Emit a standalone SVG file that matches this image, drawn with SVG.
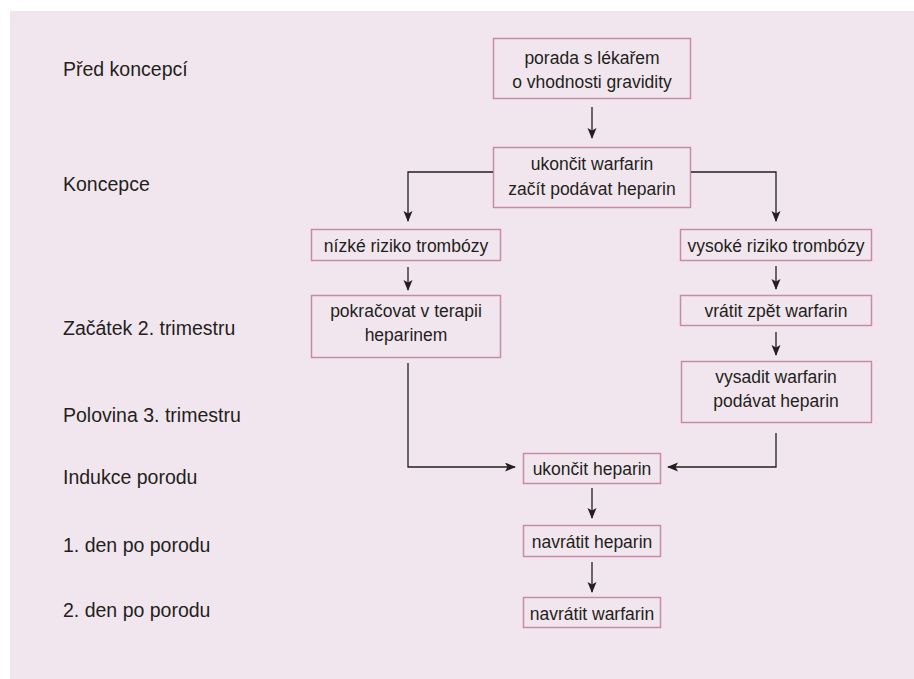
<svg xmlns="http://www.w3.org/2000/svg" width="914" height="679" viewBox="0 0 914 679">
<style>
.bg{fill:#f2e6ee}
.box{fill:none;stroke:#c98aa8;stroke-width:1.5}
.lbl{font-family:"Liberation Sans",Arial,sans-serif;font-size:19.5px;fill:#231f20}
.t{font-family:"Liberation Sans",Arial,sans-serif;font-size:17.5px;fill:#231f20;text-anchor:middle}
.c{fill:none;stroke:#231f20;stroke-width:1.3}
</style>
<defs>
<marker id="ah" markerWidth="12" markerHeight="10" refX="10" refY="4.5" orient="auto" markerUnits="userSpaceOnUse">
<path d="M0,0 L11,4.5 L0,9 L2.5,4.5 z" fill="#231f20"/>
</marker>
</defs>
<rect class="bg" x="10" y="11" width="904" height="668"/>
<g id="labels">
<text class="lbl" x="63" y="76">Před koncepcí</text>
<text class="lbl" x="63" y="191">Koncepce</text>
<text class="lbl" x="63" y="335">Začátek 2. trimestru</text>
<text class="lbl" x="63" y="422">Polovina 3. trimestru</text>
<text class="lbl" x="63" y="484">Indukce porodu</text>
<text class="lbl" x="63" y="552">1. den po porodu</text>
<text class="lbl" x="63" y="617">2. den po porodu</text>
</g>
<g id="n1"><rect class="box" x="493.5" y="38.5" width="197" height="60"/><text class="t" x="592" y="64">porada s lékařem</text><text class="t" x="592" y="88">o vhodnosti gravidity</text></g>
<g id="n2"><rect class="box" x="493.5" y="147.5" width="197" height="60"/><text class="t" x="592" y="170">ukončit warfarin</text><text class="t" x="592" y="195">začít podávat heparin</text></g>
<g id="n3"><rect class="box" x="311.5" y="229.5" width="189" height="31"/><text class="t" x="406" y="252">nízké riziko trombózy</text></g>
<g id="n4"><rect class="box" x="311.5" y="295.5" width="189" height="62"/><text class="t" x="406" y="317">pokračovat v terapii</text><text class="t" x="406" y="341">heparinem</text></g>
<g id="n5"><rect class="box" x="680.5" y="229.5" width="191" height="31"/><text class="t" x="776" y="252">vysoké riziko trombózy</text></g>
<g id="n6"><rect class="box" x="680.5" y="295.5" width="191" height="30"/><text class="t" x="776" y="317">vrátit zpět warfarin</text></g>
<g id="n7"><rect class="box" x="681.5" y="361.5" width="190" height="61"/><text class="t" x="776" y="383">vysadit warfarin</text><text class="t" x="776" y="407">podávat heparin</text></g>
<g id="n8"><rect class="box" x="523.5" y="453.5" width="137" height="30"/><text class="t" x="592" y="475">ukončit heparin</text></g>
<g id="n9"><rect class="box" x="523.5" y="525.5" width="137" height="31"/><text class="t" x="592" y="548">navrátit heparin</text></g>
<g id="n10"><rect class="box" x="523.5" y="597.5" width="137" height="30"/><text class="t" x="592" y="620">navrátit warfarin</text></g>
<g id="connectors">
<path class="c" d="M592,107 V138" marker-end="url(#ah)"/>
<path class="c" d="M493,172 H408 V221" marker-end="url(#ah)"/>
<path class="c" d="M691,172 H776 V221" marker-end="url(#ah)"/>
<path class="c" d="M408,267 V290" marker-end="url(#ah)"/>
<path class="c" d="M776,266 V289" marker-end="url(#ah)"/>
<path class="c" d="M776,332 V355" marker-end="url(#ah)"/>
<path class="c" d="M408,363 V467 H515" marker-end="url(#ah)"/>
<path class="c" d="M776,433 V467 H668" marker-end="url(#ah)"/>
<path class="c" d="M592,488 V518" marker-end="url(#ah)"/>
<path class="c" d="M592,562 V592" marker-end="url(#ah)"/>
</g>
</svg>
